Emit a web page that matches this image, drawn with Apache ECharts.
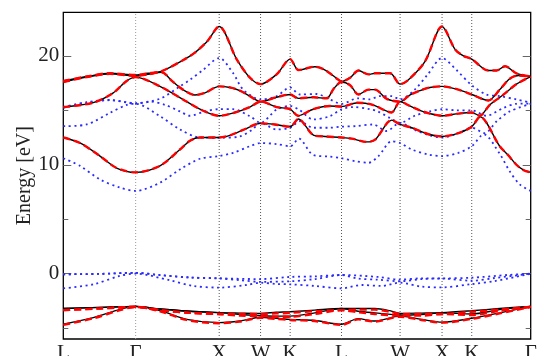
<!DOCTYPE html>
<html>
<head>
<meta charset="utf-8">
<script src="https://cdn.jsdelivr.net/npm/echarts@6/dist/echarts.min.js"></script>
<style>
html,body{margin:0;padding:0;background:#fff;}
#chart{width:552px;height:356px;}
</style>
</head>
<body>
<div id="chart"></div>
<script>
// high-symmetry points along the k-path (path distance, arbitrary units)
const kTicks = [0, 72.4, 156, 197.4, 227, 278.4, 337, 379, 408.7, 467.7];
const kLabels = ['L', 'Γ', 'X', 'W', 'K', 'L', 'W', 'X', 'K', 'Γ'];
const yMajor = [0, 10, 20];
const yMinor = [-5, 5, 15];

// black (solid) conduction bands [k, E]
const blackC1 = [[0,12.5],[16.7,12.0],[36.7,10.8],[53.4,9.7],[72.4,9.3],[96.7,9.9],[116.7,11.4],[126.7,12.2],[136.7,12.5],[156,12.5],[166.7,12.7],[180,13.2],[197.4,13.8],[211.7,13.7],[227,13.5],[235.2,14.2],[250.7,12.7],[262,12.6],[278.4,12.5],[288.7,12.4],[303.7,12.1],[312,12.3],[328.7,14.1],[337,13.7],[348.7,13.4],[365.4,12.8],[379,12.6],[395.4,12.9],[408.7,13.5],[417,14.4],[436.7,11.7],[445,10.9],[453.4,10.0],[460.7,9.5],[467.7,9.3]];
const blackC2 = [[0,15.3],[30,15.7],[50,16.6],[63.4,17.7],[72.4,18.05],[96.7,17.2],[119.7,16.0],[136.7,15.1],[146.7,14.7],[156,14.5],[171.7,14.8],[186.7,15.3],[197.4,15.8],[213.4,15.3],[227,15.1],[235,14.5],[250,15.1],[266.7,15.4],[278.4,15.35],[294.7,15.7],[309.7,15.5],[328.4,14.8],[337,15.8],[346.7,15.4],[356.7,15.0],[366.7,14.7],[379,14.5],[395.4,14.7],[408.7,14.8],[416.7,14.5],[426.7,15.5],[440,16.4],[453.4,17.4],[467.7,18.1]];
const blackC3 = [[0,17.6],[23.4,18.05],[46.7,18.35],[72.4,18.15],[84.7,18.3],[98.4,18.5],[108.7,17.7],[119.7,16.9],[131.7,16.4],[141.7,16.6],[156,17.2],[166.7,17.1],[176.7,16.8],[186.7,16.3],[197.4,15.8],[213.4,16.2],[227,16.45],[235.2,16.1],[250,16.2],[263.4,16.1],[270.7,17.0],[278.4,17.6],[287,17.3],[295.4,16.45],[305.4,16.9],[312,16.9],[323.7,16.05],[337,15.8],[346.7,16.4],[356.7,16.8],[366.7,17.1],[379,17.2],[395.4,16.9],[408.7,16.45],[425.4,15.9],[436.7,16.9],[446.7,17.9],[455.4,18.2],[467.7,18.1]];
const blackC4 = [[0,17.7],[23.4,18.1],[46.7,18.4],[72.4,18.25],[84.7,18.4],[98.4,18.6],[119.7,19.6],[131.7,20.3],[143.7,21.3],[156,22.7],[173.4,19.7],[186.7,18.0],[197.4,17.4],[213.4,18.3],[227,19.7],[235.4,18.7],[251.7,19.0],[262,18.7],[275.4,17.8],[278.4,17.65],[287,18.0],[295.4,18.65],[305.4,18.3],[312,18.4],[327,18.4],[337,17.4],[345.4,17.8],[362,19.5],[379,22.7],[392,20.6],[400.4,20.0],[408.7,19.7],[425.2,18.65],[433.7,18.65],[442,19.05],[453.4,18.4],[467.7,18.1]];

// black (solid) valence bands
const blackV1 = [[0,-4.65],[30,-4.04],[56.7,-3.28],[72.4,-3.0],[96.7,-3.4],[123.4,-4.2],[156,-4.5],[176.7,-4.35],[197.4,-4.0],[213,-4.1],[227,-4.2],[251.7,-4.3],[278.4,-4.65],[295,-4.13],[311.7,-4.35],[337,-3.9],[358.4,-4.2],[379,-4.45],[408.7,-4.1],[436.7,-3.6],[467.7,-3.0]];
const blackV2 = [[0,-3.2],[36.7,-3.1],[72.4,-3.0],[96.7,-3.25],[126.7,-3.45],[156,-3.58],[176.7,-3.75],[197.4,-3.85],[213,-3.9],[227,-3.9],[251.7,-3.6],[278.4,-3.2],[295,-3.45],[311.7,-3.6],[337,-3.8],[358.4,-3.75],[379,-3.6],[408.7,-3.7],[436.7,-3.3],[467.7,-3.0]];
const blackV3 = [[0,-3.2],[36.7,-3.1],[72.4,-3.0],[96.7,-3.25],[126.7,-3.45],[156,-3.58],[176.7,-3.62],[197.4,-3.65],[213,-3.55],[227,-3.5],[251.7,-3.35],[278.4,-3.2],[295,-3.2],[311.7,-3.2],[326.7,-3.4],[337,-3.65],[358.4,-3.62],[379,-3.58],[408.7,-3.4],[436.7,-3.2],[467.7,-3.0]];

// red (dashed) valence bands
const redV1 = [[0,-4.7],[30,-4.1],[56.7,-3.35],[72.4,-3.05],[96.7,-3.45],[123.4,-4.25],[156,-4.55],[176.7,-4.4],[197.4,-4.05],[213,-4.15],[227,-4.25],[251.7,-4.35],[278.4,-4.7],[295,-4.2],[311.7,-4.4],[337,-3.95],[358.4,-4.25],[379,-4.5],[408.7,-4.15],[436.7,-3.65],[467.7,-3.05]];
const redV2 = [[0,-3.35],[36.7,-3.2],[72.4,-3.05],[96.7,-3.35],[126.7,-3.6],[156,-3.7],[176.7,-3.85],[197.4,-3.9],[213,-3.95],[227,-3.95],[251.7,-3.7],[278.4,-3.35],[295,-3.55],[311.7,-3.7],[337,-3.85],[358.4,-3.85],[379,-3.7],[408.7,-3.8],[436.7,-3.4],[467.7,-3.05]];
const redV3 = [[0,-3.35],[36.7,-3.2],[72.4,-3.05],[96.7,-3.35],[126.7,-3.6],[156,-3.7],[176.7,-3.7],[197.4,-3.7],[213,-3.65],[227,-3.6],[251.7,-3.45],[278.4,-3.35],[295,-3.3],[311.7,-3.3],[326.7,-3.5],[337,-3.7],[358.4,-3.7],[379,-3.7],[408.7,-3.5],[436.7,-3.3],[467.7,-3.05]];

// blue (dotted) conduction bands
const blueC1 = [[0,10.6],[16.7,9.9],[36.7,8.65],[56.7,7.9],[72.4,7.6],[96.7,8.35],[116.7,9.57],[136.7,10.55],[156,10.8],[170,11.1],[186.7,11.7],[197.4,12.0],[213.4,11.9],[227,11.7],[235.7,12.4],[250,10.9],[266.7,10.75],[278.4,10.6],[292,10.33],[305.4,10.18],[315.4,10.8],[328.7,12.16],[337,12.0],[348.7,11.4],[365.4,10.94],[379,10.8],[395.4,11.1],[408.7,11.7],[420.7,12.8],[436.7,11.0],[446.7,9.4],[456.7,8.2],[467.7,7.6]];
const blueC2 = [[0,13.54],[23.4,13.7],[46.7,14.77],[63.4,15.5],[72.4,15.6],[96.7,14.46],[116.7,13.24],[136.7,12.5],[156,12.48],[176.7,12.6],[188.7,13.2],[197.4,13.85],[213.4,13.24],[227,13.4],[236.7,14.0],[250,13.4],[266.7,13.4],[278.4,13.5],[293.4,13.55],[310,13.7],[323.4,13.1],[337,13.85],[351.7,13.2],[366.7,12.7],[379,12.5],[395.4,12.9],[408.7,13.4],[421.7,12.9],[433.7,14.0],[446.7,14.9],[467.7,15.6]];
const blueC3 = [[0,15.23],[23.4,15.69],[46.7,15.93],[72.4,15.62],[86.7,15.8],[101.7,15.5],[116.7,14.9],[126.7,14.5],[141.7,14.9],[156,15.1],[170,15.1],[186.7,14.46],[197.4,13.85],[213.4,15.07],[227,15.4],[236.7,15.0],[250,14.16],[266.7,14.46],[278.4,15.1],[290,15.3],[306.7,15.1],[314.7,14.9],[326.7,14.3],[337,13.85],[351.7,14.5],[366.7,14.9],[379,15.1],[393.4,15.0],[408.7,15.0],[423.4,14.5],[440,15.2],[453.4,15.6],[467.7,15.62]];
const blueC4 = [[0,15.3],[23.4,15.75],[46.7,15.95],[72.4,15.65],[96.7,16.06],[116.7,17.2],[126.7,17.8],[139.7,18.7],[156,19.8],[170,18.4],[180,16.9],[197.4,16.0],[213.4,16.3],[227,17.1],[236.7,16.45],[253.4,16.5],[266.7,16.0],[278.4,15.6],[294.7,16.1],[306.7,16.0],[316.7,16.3],[328.7,16.3],[337,16.0],[351.7,16.9],[364.7,18.3],[379,19.8],[393.4,18.7],[408.7,17.3],[423.4,16.45],[436.7,16.3],[453.4,16.0],[467.7,15.7]];

// blue (dotted) valence bands
const blueV1 = [[0,-1.35],[30,-0.98],[56.7,-0.2],[72.4,0.0],[106.7,-0.61],[130,-1.13],[156,-1.28],[183.4,-1.04],[197.4,-0.83],[213.4,-0.95],[227,-0.98],[251.7,-1.13],[278.4,-1.35],[298.4,-1.04],[318.4,-1.13],[337,-0.83],[358.4,-1.19],[379,-1.26],[408.7,-0.96],[431.7,-0.68],[467.7,0.0]];
const blueV2 = [[0,-0.06],[36.7,-0.02],[72.4,0.08],[96.7,-0.13],[126.7,-0.35],[156,-0.43],[176.7,-0.6],[197.4,-0.75],[227,-0.7],[251.7,-0.5],[278.4,-0.12],[294.7,-0.45],[314.7,-0.55],[337,-0.7],[358.4,-0.5],[379,-0.45],[408.7,-0.65],[431.7,-0.4],[467.7,0.0]];
const blueV3 = [[0,-0.06],[36.7,-0.02],[72.4,0.08],[96.7,-0.13],[126.7,-0.35],[156,-0.43],[197.4,-0.5],[227,-0.3],[251.7,-0.25],[278.4,-0.12],[314.7,-0.3],[337,-0.55],[358.4,-0.43],[379,-0.43],[408.7,-0.37],[444.7,-0.12],[467.7,0.0]];

const blackBands = [blackC1, blackC2, blackC3, blackC4, blackV1, blackV2, blackV3];
const redBands = [blackC1, blackC2, blackC3, blackC4, redV1, redV2, redV3];
const blueBands = [blueC1, blueC2, blueC3, blueC4, blueV1, blueV2, blueV3];

const FONT = "'Liberation Serif', 'DejaVu Serif', serif";
const chart = echarts.init(document.getElementById('chart'), null, {renderer: 'canvas'});

const series = [];
// vertical dotted lines at high-symmetry points
kTicks.slice(1, -1).forEach((k, i) => {
  series.push({
    type: 'line', data: [[k, -6], [k, 24]], symbol: 'none', silent: true, z: 1,
    lineStyle: {color: i === 0 ? '#9a9a9a' : '#555', width: 1, type: [1, 2]}
  });
});
blueBands.forEach(d => series.push({
  type: 'line', data: d, symbol: 'none', silent: true, z: 2, smooth: 0.3,
  lineStyle: {color: '#2b2bff', width: 1.8, type: [2, 3.6]}
}));
blackBands.forEach(d => series.push({
  type: 'line', data: d, symbol: 'none', silent: true, z: 3, smooth: 0.3,
  lineStyle: {color: '#000', width: 1.4}
}));
redBands.forEach(d => series.push({
  type: 'line', data: d, symbol: 'none', silent: true, z: 4, smooth: 0.3,
  lineStyle: {color: '#ff0000', width: 2.4, type: [7, 4]}
}));

function yAx(pos, ticks, len, labels) {
  return {
    type: 'value', position: pos, min: -6, max: 24,
    axisLine: {show: false}, splitLine: {show: false},
    axisTick: {show: true, inside: true, length: len, customValues: ticks, lineStyle: {color: '#666', width: 1}},
    axisLabel: labels ? {show: true, customValues: ticks, fontFamily: FONT, fontSize: 21, color: '#222', margin: 4} : {show: false}
  };
}
const y0 = yAx('left', yMajor, 8, true);
y0.name = 'Energy [eV]';
y0.nameLocation = 'middle';
y0.nameGap = 29;
y0.nameMoveOverlap = false;
y0.nameTextStyle = {fontFamily: FONT, fontSize: 20, color: '#222'};

chart.setOption({
  animation: false,
  backgroundColor: '#fff',
  grid: {left: 63.3, right: 21.3, top: 12.3, bottom: 17, containLabel: false, outerBoundsMode: 'none',
         show: true, borderColor: '#000', borderWidth: 1.3, backgroundColor: 'transparent'},
  xAxis: {
    type: 'value', min: 0, max: 467.7,
    axisLine: {show: false}, splitLine: {show: false}, axisTick: {show: false},
    axisLabel: {
      show: true, customValues: kTicks, showMinLabel: true, showMaxLabel: true,
      fontFamily: FONT, fontSize: 21, color: '#222', margin: 4,
      formatter: v => { const i = kTicks.findIndex(t => Math.abs(t - v) < 0.01); return i >= 0 ? kLabels[i] : ''; }
    }
  },
  yAxis: [y0, yAx('left', yMinor, 5, false), yAx('right', yMajor, 8, false), yAx('right', yMinor, 5, false)],
  series: series
});
</script>
</body>
</html>
